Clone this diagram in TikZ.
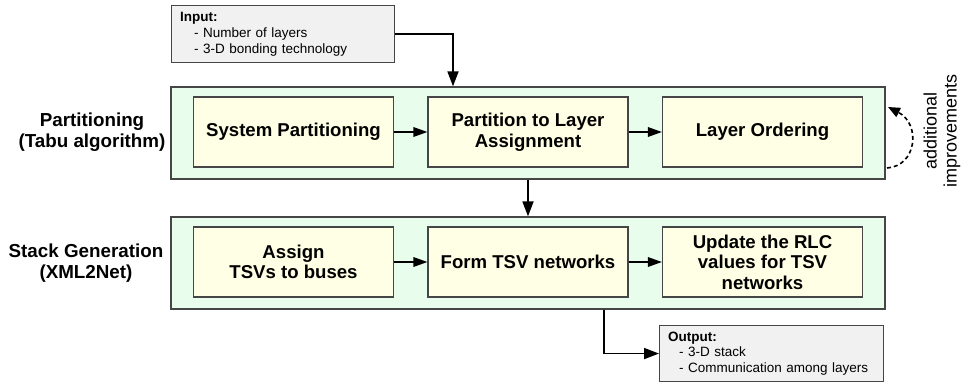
\documentclass[tikz,border=0pt]{standalone}
\usepackage{fontspec}
\setmainfont{Liberation Sans}
\usetikzlibrary{arrows.meta,calc}
\definecolor{stagefill}{RGB}{232,253,236}
\definecolor{boxfill}{RGB}{255,255,229}
\definecolor{iofill}{RGB}{241,241,241}
\definecolor{edge}{RGB}{70,70,70}
\begin{document}
\begin{tikzpicture}[x=1pt,y=-1pt,
  stage/.style={draw=edge,line width=1.3pt,fill=stagefill,minimum width=714pt,minimum height=92pt,inner sep=0pt},
  taskbox/.style={draw=edge,line width=1.1pt,fill=boxfill,minimum width=200pt,minimum height=70pt,inner sep=2pt,align=center,
    font=\fontsize{18.6}{20.5}\selectfont\bfseries},
  iobox/.style={draw=edge,line width=1.1pt,fill=iofill,anchor=north west,inner xsep=8.5pt,inner ysep=0pt,align=left,
    font=\fontsize{13.5}{15.8}\selectfont},
  sidelabel/.style={align=center,font=\fontsize{18.8}{21}\selectfont\bfseries},
  conn/.style={line width=1.8pt,-{Triangle[length=15pt,width=11pt]}},
  smallconn/.style={line width=1.6pt,-{Triangle[length=14pt,width=9.5pt]}},
  loopconn/.style={line width=1.6pt,dash pattern=on 4pt off 3pt,-{Triangle[length=12pt,width=10pt]}}]
\useasboundingbox (0,0) rectangle (965,382);

% input
\node[iobox,minimum width=223pt,minimum height=57pt,text width=206pt] (input) at (171,5)
  {\textbf{Input:}\\\hspace*{14pt}- Number of layers\\\hspace*{14pt}- 3-D bonding technology};

% stages
\node[stage] (g1) at (528,133) {};
\node[stage] (g2) at (528,263) {};

% tasks
\node[taskbox] (sp) at (293.5,132) {System Partitioning};
\node[taskbox] (pl) at (528,132) {Partition to Layer\\Assignment};
\node[taskbox] (lo) at (762.5,132) {Layer Ordering};
\node[taskbox] (at) at (293.5,262) {Assign\\TSVs to buses};
\node[taskbox] (ft) at (528,262) {Form TSV networks};
\node[taskbox] (ur) at (762.5,262) {Update the RLC\\values for TSV\\networks};

% side labels
\node[sidelabel] (lab1) at (92,132) {Partitioning\\(Tabu algorithm)};
\node[sidelabel] (lab2) at (86,263) {Stack Generation\\(XML2Net)};

% output
\node[iobox,minimum width=224pt,minimum height=56pt,text width=207pt] (output) at (659,325)
  {\textbf{Output:}\\\hspace*{11pt}- 3-D stack\\\hspace*{11pt}- Communication among layers};

% additional improvements
\node[rotate=90,align=center,font=\fontsize{18}{20}\selectfont] (imp) at (942,131) {additional\\improvements};

% connectors
\draw[conn] (input.east) -| ($(g1.north)+(-75,0)$);
\draw[smallconn] (sp) -- (pl);
\draw[smallconn] (pl) -- (lo);
\draw[smallconn] (at) -- (ft);
\draw[smallconn] (ft) -- (ur);
\draw[conn] (g1.south) -- (g2.north);
\draw[conn] ($(g2.south)+(76,0)$) |- (output.west);
\coordinate (la) at (887,168);
\coordinate (lb) at (888,107);
\draw[loopconn] (la) .. controls (917,166) and (921,124) .. (lb);
\end{tikzpicture}
\end{document}
